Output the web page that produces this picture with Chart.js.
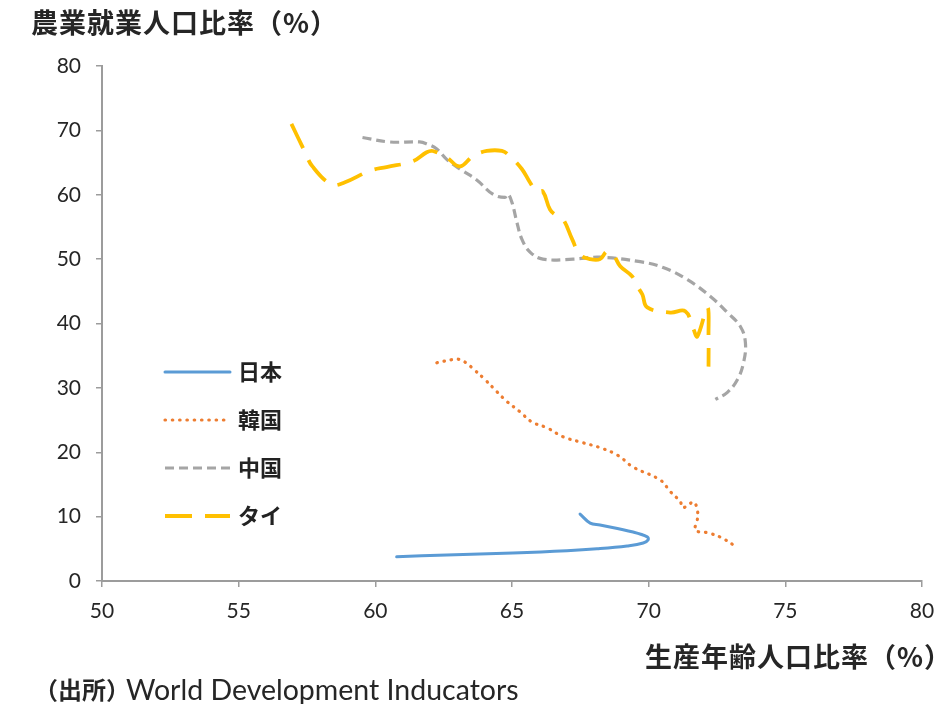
<!DOCTYPE html>
<html lang="ja">
<head>
<meta charset="utf-8">
<title>農業就業人口比率と生産年齢人口比率</title>
<script src="https://cdn.jsdelivr.net/npm/chart.js@4.4.1/dist/chart.umd.min.js"></script>
<style>
  html, body { margin: 0; padding: 0; background: #fff; }
  #wrap { width: 937px; height: 704px; }
</style>
</head>
<body>
<div id="wrap"><canvas id="chart" width="937" height="704"></canvas></div>
<script>
// 生産年齢人口比率(x) と 農業就業人口比率(y)、年代順
const japanWorkAge = [67.49, 67.86, 68.22, 69.43, 69.95, 69.98, 69.80, 69.21, 68.11, 67.01, 65.03, 62.61, 60.78];
const japanAgri    = [10.4, 9.0, 8.7, 7.6, 6.85, 6.4, 5.9, 5.45, 5.0, 4.7, 4.35, 4.05, 3.75];

const koreaWorkAge = [62.25, 62.83, 63.09, 63.35, 63.57, 64.01, 64.45, 64.81, 65.29, 65.73, 66.28, 66.87, 67.49, 68.23, 68.88, 69.43, 70.42, 70.79, 71.16, 71.23, 71.45, 71.64, 71.78, 71.78, 71.71, 72.15, 72.63, 73.10];
const koreaAgri    = [33.9, 34.4, 34.4, 33.8, 33.0, 31.3, 29.4, 27.9, 26.3, 24.7, 23.8, 22.4, 21.6, 20.7, 19.5, 17.7, 15.7, 13.9, 12.3, 11.4, 11.8, 12.3, 11.1, 9.5, 7.9, 7.5, 6.8, 5.6];

const chinaWorkAge = [59.53, 60.52, 61.62, 61.88, 62.25, 62.61, 63.09, 63.71, 64.30, 64.74, 64.85, 65.00, 65.18, 65.36, 65.66, 66.13, 67.23, 68.22, 69.69, 70.53, 71.42, 72.26, 72.88, 73.36, 73.54, 73.47, 73.25, 72.88, 72.44];
const chinaAgri    = [68.9, 68.2, 68.2, 67.9, 67.1, 65.5, 64.0, 62.3, 60.1, 59.6, 60.1, 58.8, 55.7, 53.1, 51.1, 50.0, 50.0, 50.3, 49.6, 48.7, 46.8, 44.2, 41.7, 39.5, 37.0, 33.9, 31.3, 29.3, 28.2];

const thaiWorkAge = [56.93, 57.41, 57.70, 58.40, 58.87, 59.79, 60.41, 61.37, 61.88, 62.10, 62.61, 63.09, 63.57, 64.08, 64.63, 64.92, 65.36, 65.66, 65.91, 66.13, 66.39, 66.65, 66.87, 67.20, 67.49, 67.86, 68.22, 68.48, 68.70, 68.96, 69.40, 69.58, 69.77, 69.95, 70.79, 71.34, 71.64, 71.78, 72.15, 72.19, 72.19];
const thaiAgri    = [71.0, 66.8, 64.4, 61.6, 61.9, 63.7, 64.3, 65.2, 66.6, 66.8, 65.8, 64.4, 66.0, 66.8, 66.8, 66.0, 64.0, 61.9, 60.5, 60.5, 57.7, 56.7, 56.2, 53.1, 50.7, 50.0, 50.0, 51.2, 50.7, 48.9, 47.3, 45.8, 44.5, 42.5, 41.7, 41.9, 39.1, 38.0, 42.5, 38.0, 33.3];

const seriesNames = ['日本', '韓国', '中国', 'タイ'];
const xTicks = [50, 55, 60, 65, 70, 75, 80];
const yTicks = [0, 10, 20, 30, 40, 50, 60, 70, 80];

const yTitle = '農業就業人口比率（%）';
const xTitle = '生産年齢人口比率（%）';
const sourceHead = '（出所）';
const sourceBody = 'World Development Inducators';

const toPoints = (xs, ys) => xs.map((x, i) => ({ x, y: ys[i] }));

const CJK = '"Noto Sans CJK JP", "Noto Sans", sans-serif';
const NUM = 'Lato, "Noto Sans", sans-serif';

const lineBase = { showLine: true, pointRadius: 0, pointHoverRadius: 0, tension: 0.4, fill: false };

const datasets = [
  { ...lineBase, label: seriesNames[0], data: toPoints(japanWorkAge, japanAgri),
    borderColor: '#5B9BD5', borderWidth: 3, borderCapStyle: 'round', order: 3 },
  { ...lineBase, label: seriesNames[1], data: toPoints(koreaWorkAge, koreaAgri),
    borderColor: '#ED7D31', borderWidth: 3.2, borderDash: [0.5, 6.8], borderCapStyle: 'round', order: 2 },
  { ...lineBase, label: seriesNames[2], data: toPoints(chinaWorkAge, chinaAgri),
    borderColor: '#A5A5A5', borderWidth: 3.2, borderDash: [9, 5], borderCapStyle: 'butt', order: 1 },
  { ...lineBase, label: seriesNames[3], data: toPoints(thaiWorkAge, thaiAgri),
    borderColor: '#FFC000', borderWidth: 3.8, borderDash: [27, 13], borderCapStyle: 'butt', order: 0 }
];

// 凡例はプロット内の左側に縦並びで描く
const insideLegend = {
  id: 'insideLegend',
  afterDatasetsDraw(chart) {
    const ctx = chart.ctx;
    const x0 = 165, x1 = 230, top = 372, gap = 48;
    chart.data.datasets.forEach((ds, i) => {
      const y = top + i * gap;
      ctx.save();
      ctx.strokeStyle = ds.borderColor;
      ctx.lineWidth = ds.borderWidth;
      ctx.lineCap = ds.borderCapStyle || 'butt';
      ctx.setLineDash(ds.borderDash || []);
      ctx.beginPath();
      ctx.moveTo(x0, y);
      ctx.lineTo(x1, y);
      ctx.stroke();
      ctx.setLineDash([]);
      ctx.fillStyle = '#222';
      ctx.font = '700 22px ' + CJK;
      ctx.textBaseline = 'middle';
      ctx.textAlign = 'left';
      ctx.fillText(ds.label, 238, y);
      ctx.restore();
    });
  }
};

// 軸タイトルと出所
const captions = {
  id: 'captions',
  afterDraw(chart) {
    const ctx = chart.ctx;
    ctx.save();
    ctx.fillStyle = '#262626';
    ctx.textBaseline = 'middle';
    ctx.textAlign = 'left';
    ctx.font = '700 27px ' + CJK;
    ctx.letterSpacing = '1px';
    ctx.fillText(yTitle, 31, 23);
    ctx.fillText(xTitle, 645, 657);
    ctx.letterSpacing = '0px';
    ctx.font = '700 24px ' + CJK;
    ctx.fillText(sourceHead, 34, 690);
    const w = ctx.measureText(sourceHead).width;
    ctx.font = '400 28.5px ' + NUM;
    ctx.fillText(sourceBody, 34 + w - 4, 691);
    ctx.restore();
  }
};

const axisColor = '#9c9c9c';

new Chart(document.getElementById('chart'), {
  type: 'scatter',
  data: { datasets },
  options: {
    responsive: false,
    animation: false,
    layout: { padding: { left: 0, top: 66, right: 15, bottom: 70 } },
    plugins: {
      legend: { display: false },
      tooltip: { enabled: false },
      title: { display: false }
    },
    scales: {
      x: {
        type: 'linear',
        min: xTicks[0],
        max: xTicks[xTicks.length - 1],
        afterBuildTicks: s => { s.ticks = xTicks.map(v => ({ value: v })); },
        afterFit: s => { s.height = 53; s.paddingLeft = 0; s.paddingRight = 0; },
        grid: { drawOnChartArea: false, drawTicks: true, tickLength: 6, color: axisColor, lineWidth: 1.5 },
        border: { color: axisColor, width: 2 },
        ticks: { color: '#262626', font: { family: NUM, size: 21 }, padding: 12, maxRotation: 0 }
      },
      y: {
        type: 'linear',
        min: yTicks[0],
        max: yTicks[yTicks.length - 1],
        afterBuildTicks: s => { s.ticks = yTicks.map(v => ({ value: v })); },
        afterFit: s => { s.width = 102; s.paddingTop = 0; s.paddingBottom = 0; },
        grid: { drawOnChartArea: false, drawTicks: true, tickLength: 6, color: axisColor, lineWidth: 1.5 },
        border: { color: axisColor, width: 2 },
        ticks: { color: '#262626', font: { family: NUM, size: 21 }, padding: 15 }
      }
    }
  },
  plugins: [insideLegend, captions]
});
</script>
</body>
</html>
